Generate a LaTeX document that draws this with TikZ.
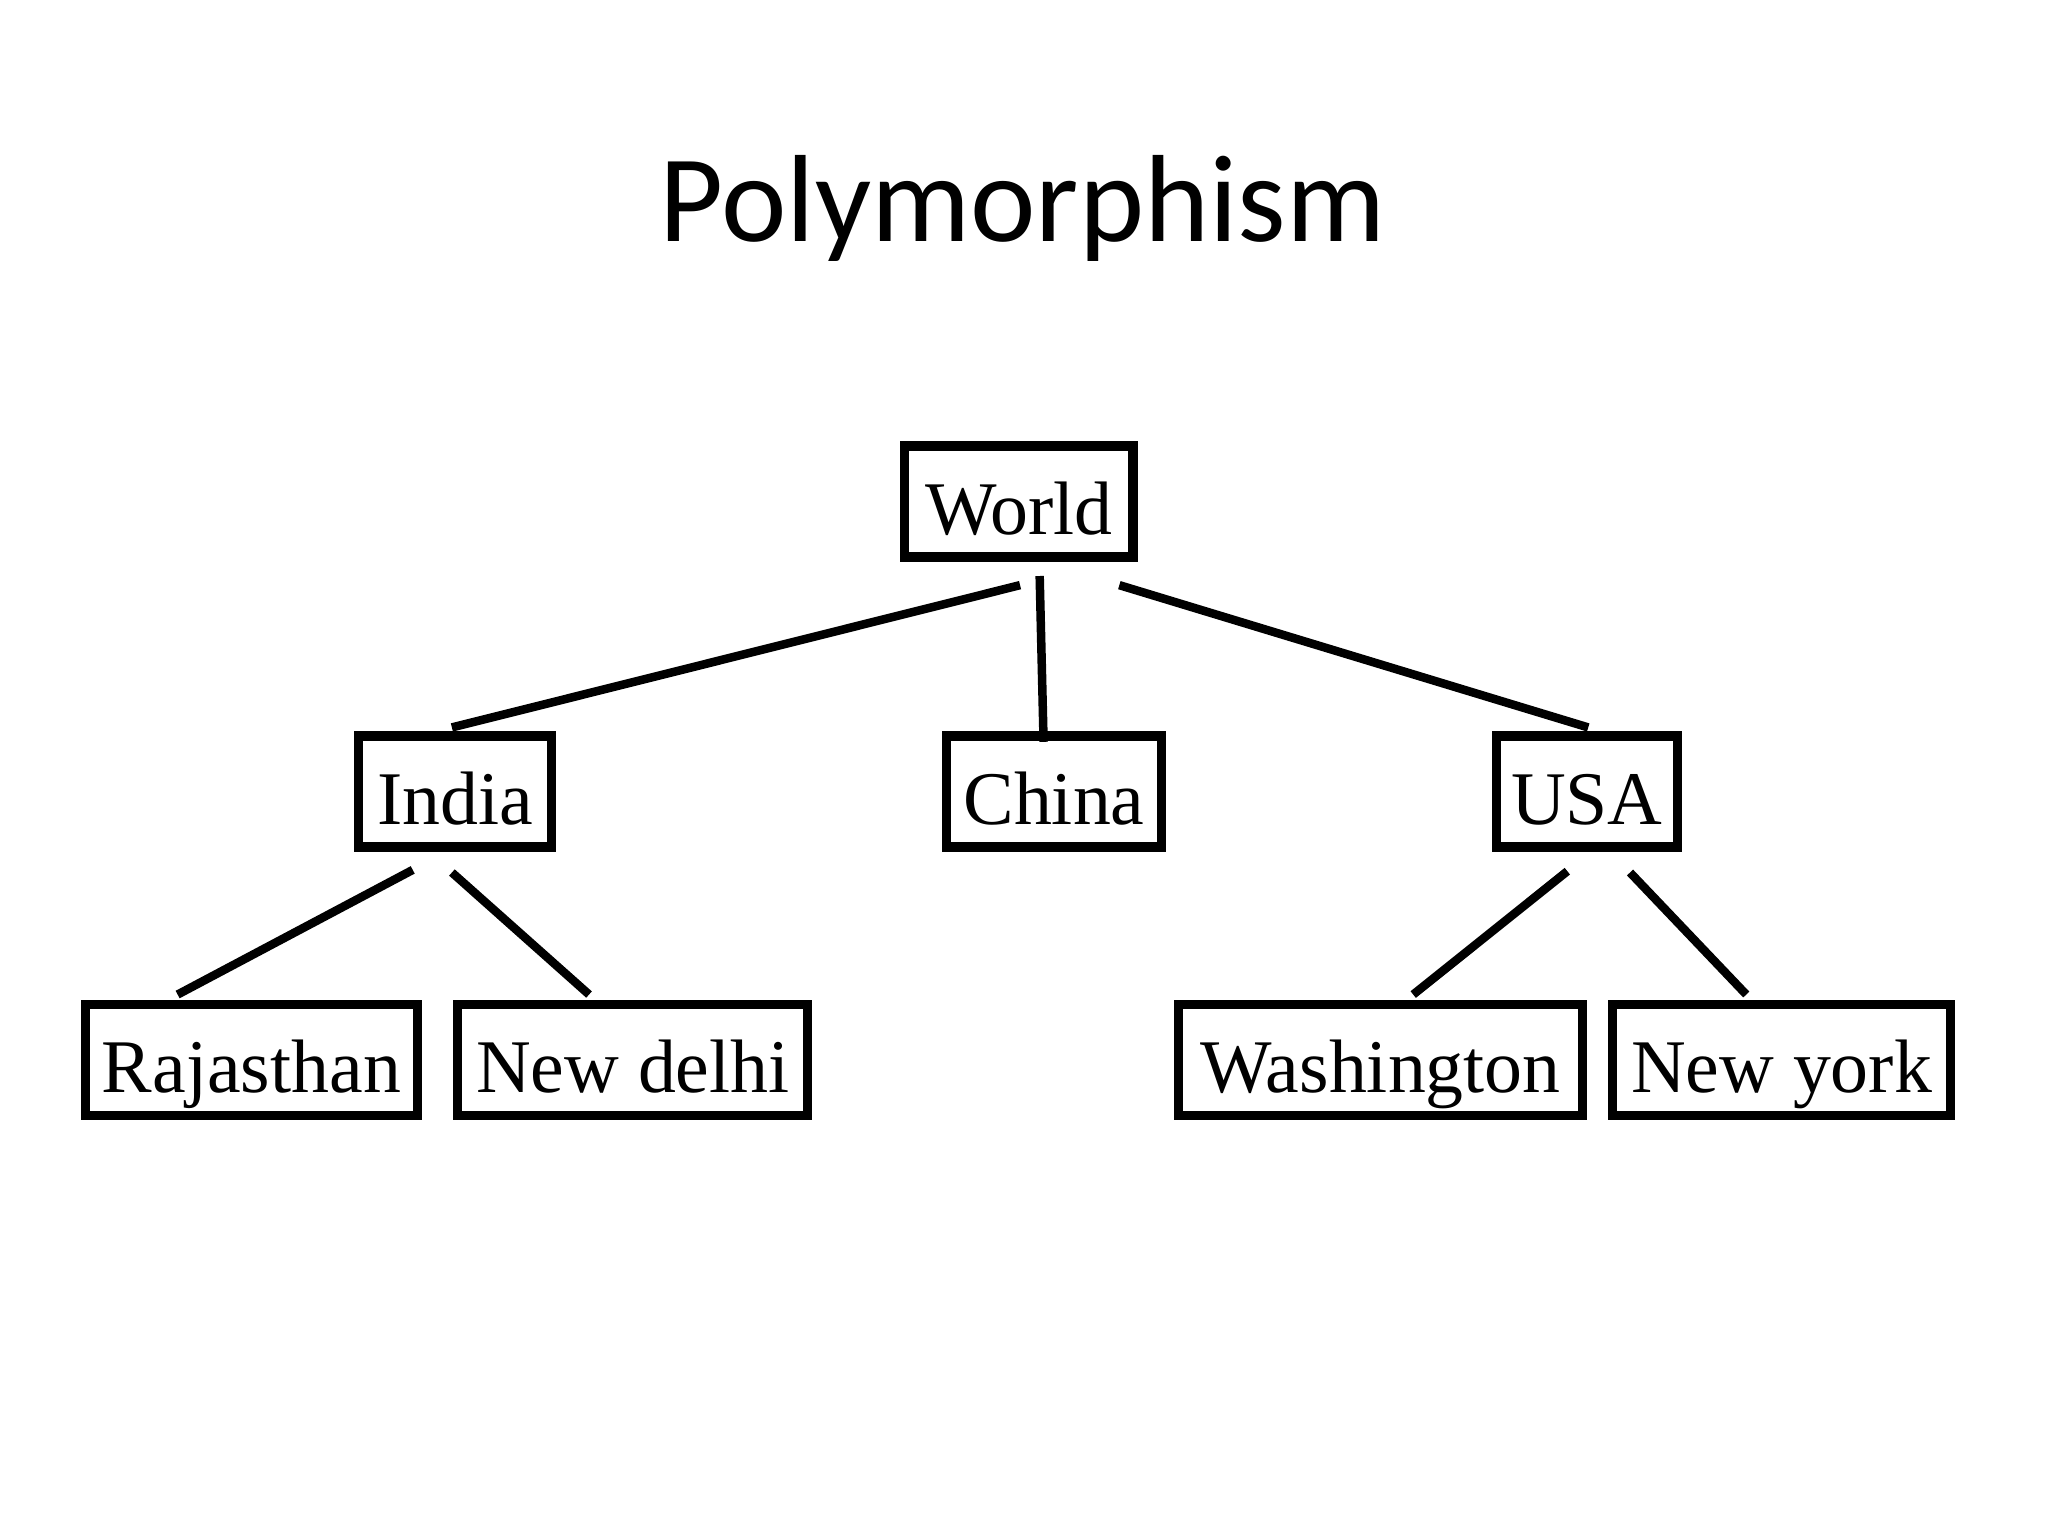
\documentclass[tikz,border=0pt]{standalone}
\usepackage{fontspec}
\setmainfont{Liberation Serif}
\newfontfamily\titlefont{Carlito}
\usepackage{tikz}
\usetikzlibrary{positioning,calc}

\begin{document}
\begin{tikzpicture}[x=0.01cm, y=0.01cm,
    box/.style={draw, line width=0.07cm, rectangle, minimum height=0.85cm, inner sep=0pt,
      text height=0.5cm, text depth=0cm, font=\fontsize{16.5}{18}\selectfont},
    link/.style={line width=0.065cm}]
        \useasboundingbox (0,0) rectangle (1568,1176);
        \node[anchor=base, font=\titlefont\fontsize{27}{30}\selectfont] (title) at (783,991) {Polymorphism};
        \foreach \n/\x/\y/\w/\t in {world/780/792/175/World, india/348.5/570/148/India,
            china/807/570/165/China, usa/1215/570/139/USA,
            raj/192.5/364.5/254/Rajasthan, delhi/484.5/364.5/268/New delhi,
            wash/1057/364.5/309/Washington, york/1364/364.5/259/New york} {
          \node[box, minimum width=\w*0.01cm] (\n) at (\x,\y) {\t};
        }
        \draw[link] ([shift={(1,-18)}]world.south) -- ([shift={(-2.5,3)}]india.north);
        \draw[link] ([shift={(16,-11)}]world.south) -- ([shift={(-8,-8)}]china.north);
        \draw[link] ([shift={(77,-18)}]world.south) -- ([shift={(1,3)}]usa.north);
        \draw[link] ([shift={(-32.5,-14)}]india.south) -- ([shift={(-56.5,4)}]raj.north);
        \draw[link] ([shift={(-2.5,-16)}]india.south) -- ([shift={(-33.5,4)}]delhi.north);
        \draw[link] ([shift={(-15,-15)}]usa.south) -- ([shift={(25,4)}]wash.north);
        \draw[link] ([shift={(33,-16)}]usa.south) -- ([shift={(-27,4)}]york.north);
      \end{tikzpicture}
\end{document}
